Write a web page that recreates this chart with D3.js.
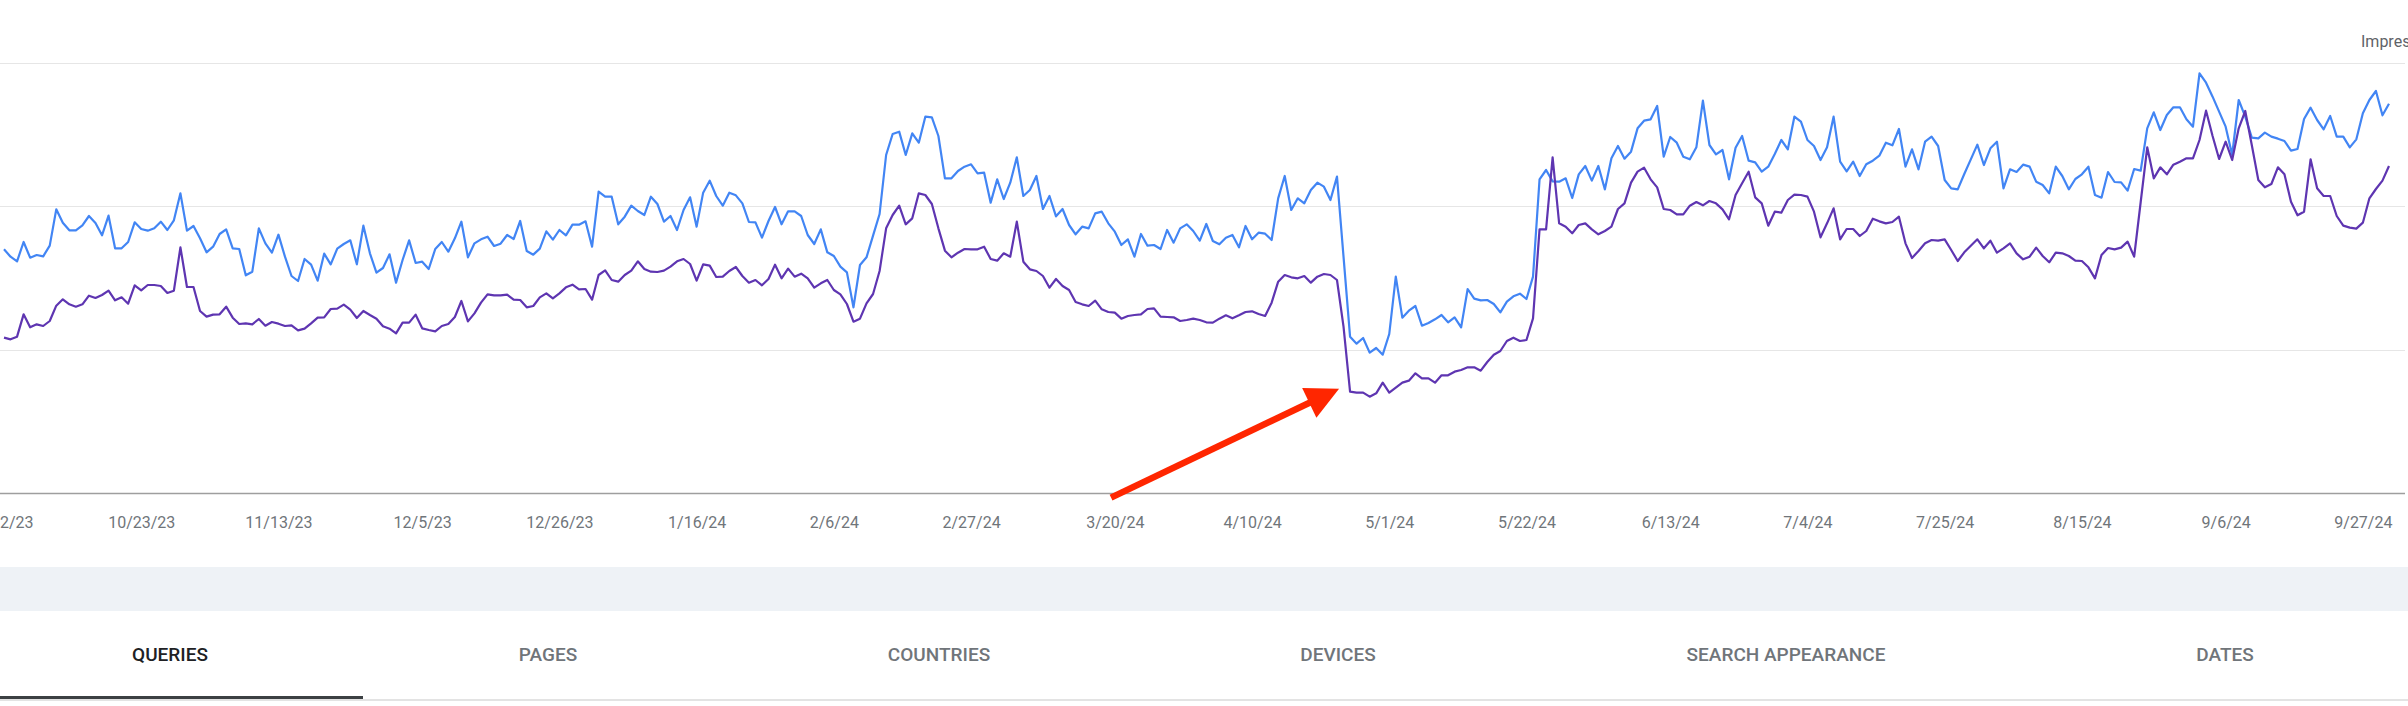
<!DOCTYPE html>
<html>
<head>
<meta charset="utf-8">
<script src="https://cdn.jsdelivr.net/npm/d3@7"></script>
<style>
  html, body { margin: 0; padding: 0; background: #ffffff; }
  svg { display: block; font-family: Roboto, "Noto Sans", Arial, sans-serif; }
</style>
</head>
<body>
<svg id="chart" width="2408" height="706"></svg>
<script>
// ---------------- DATA ----------------
// Daily series starting 10/2/23 (one value per day, 366 days)
const startDate = "2023-10-02";

// Clicks per day (blue line, left axis)
const clicks = [
  731, 709, 695, 753, 706, 714, 710, 742, 851, 811,
  788, 788, 803, 831, 810, 773, 832, 734, 734, 753,
  812, 792, 787, 794, 814, 789, 818, 899, 787, 801,
  764, 722, 739, 777, 791, 734, 732, 653, 664, 794,
  749, 721, 775, 709, 651, 636, 702, 685, 637, 718,
  686, 733, 747, 758, 686, 802, 719, 661, 675, 716,
  631, 699, 758, 690, 694, 672, 732, 753, 724, 764,
  814, 707, 749, 761, 769, 741, 748, 774, 762, 816,
  726, 715, 733, 785, 760, 789, 773, 805, 805, 815,
  739, 904, 889, 889, 806, 829, 862, 846, 834, 889,
  867, 814, 831, 789, 849, 887, 799, 901, 937, 891,
  862, 901, 893, 869, 813, 812, 766, 816, 858, 806,
  845, 845, 831, 774, 747, 791, 722, 711, 679, 662,
  557, 684, 707, 772, 837, 1014, 1077, 1084, 1014, 1079,
  1051, 1129, 1127, 1071, 944, 944, 966, 979, 986, 959,
  961, 871, 941, 882, 931, 1007, 891, 909, 951, 852,
  891, 830, 852, 804, 776, 799, 794, 839, 844, 809,
  784, 744, 761, 709, 777, 742, 744, 732, 789, 751,
  794, 806, 786, 757, 807, 756, 746, 766, 774, 737,
  801, 761, 781, 778, 759, 884, 951, 849, 884, 869,
  909, 931, 919, 879, 949, 709, 469, 448, 465, 421,
  435, 415, 477, 649, 526, 547, 561, 502, 510, 521,
  534, 512, 527, 497, 612, 583, 578, 579, 567, 542,
  574, 590, 598, 582, 649, 941, 969, 935, 934, 944,
  885, 956, 981, 937, 981, 911, 1004, 1041, 1003, 1024,
  1094, 1117, 1121, 1161, 1009, 1068, 1051, 1009, 1001, 1037,
  1177, 1044, 1016, 1029, 941, 1036, 1071, 997, 992, 964,
  979, 1017, 1059, 1031, 1129, 1114, 1059, 1041, 999, 1037,
  1129, 994, 965, 994, 951, 986, 997, 1012, 1051, 1043,
  1092, 979, 1031, 971, 1054, 1069, 1041, 939, 914, 911,
  957, 1001, 1045, 984, 1034, 1054, 914, 971, 963, 985,
  979, 934, 924, 899, 979, 951, 911, 942, 956, 979,
  894, 886, 963, 933, 932, 907, 972, 967, 1094, 1142,
  1089, 1134, 1157, 1157, 1121, 1099, 1259, 1231, 1189, 1144,
  1099, 1014, 1179, 1129, 1066, 1064, 1081, 1069, 1063, 1056,
  1027, 1032, 1122, 1156, 1119, 1091, 1131, 1069, 1069, 1037,
  1061, 1139, 1179, 1206, 1133, 1168
];

// Impressions per day, in thousands (purple line, right axis)
const impressionsK = [
  46.6, 46.1, 46.9, 53.6, 49.7, 50.6, 50.1, 51.6, 56.2, 58.1,
  56.6, 55.9, 56.6, 59.2, 58.5, 59.4, 60.7, 57.8, 58.7, 56.8,
  62.3, 60.8, 62.4, 62.4, 62.1, 60.0, 60.7, 73.7, 61.8, 61.8,
  54.6, 52.9, 53.5, 53.6, 55.9, 52.6, 50.7, 50.9, 50.6, 52.2,
  50.2, 51.3, 50.8, 50.1, 50.3, 48.8, 49.3, 50.9, 52.6, 52.7,
  55.2, 55.3, 56.5, 55.0, 52.5, 54.6, 53.4, 52.3, 50.0, 49.3,
  47.9, 51.1, 51.1, 53.5, 49.4, 48.9, 48.5, 50.1, 50.7, 52.8,
  57.6, 51.5, 53.9, 57.1, 59.6, 59.3, 59.3, 59.5, 58.0, 57.9,
  55.7, 56.1, 58.7, 59.9, 58.4, 59.9, 61.7, 62.5, 61.1, 61.2,
  58.0, 65.4, 66.8, 63.9, 63.4, 65.4, 66.7, 69.5, 67.2, 66.4,
  66.3, 66.7, 67.9, 69.5, 70.2, 68.7, 63.7, 68.6, 68.2, 64.8,
  64.9, 66.6, 67.8, 65.1, 63.1, 63.9, 62.3, 64.2, 68.5, 64.4,
  67.3, 64.9, 65.8, 64.4, 61.6, 62.9, 63.9, 60.9, 59.6, 56.7,
  51.4, 52.3, 56.9, 59.7, 66.6, 79.4, 83.4, 86.2, 80.6, 82.4,
  89.9, 89.4, 86.7, 79.4, 72.7, 70.7, 72.1, 73.2, 73.1, 73.1,
  73.9, 70.2, 69.7, 71.9, 70.9, 81.4, 69.4, 67.1, 66.6, 65.1,
  61.6, 64.2, 62.1, 60.9, 57.3, 56.6, 56.1, 57.7, 55.1, 54.3,
  54.1, 52.3, 53.1, 53.4, 53.6, 55.2, 55.4, 52.9, 52.8, 52.7,
  51.6, 51.9, 52.3, 51.9, 51.2, 51.1, 52.3, 53.3, 52.4, 53.3,
  54.3, 54.5, 53.7, 53.1, 57.1, 63.4, 65.4, 64.7, 64.4, 65.1,
  63.1, 64.9, 65.7, 65.4, 63.9, 49.9, 30.4, 30.1, 30.1, 28.9,
  29.9, 33.1, 30.1, 31.6, 33.1, 33.7, 35.9, 34.4, 34.4, 33.1,
  35.3, 35.3, 36.4, 36.9, 37.7, 37.7, 36.7, 39.3, 41.5, 42.6,
  45.6, 46.6, 45.6, 45.9, 52.4, 79.1, 79.1, 100.7, 80.9, 79.9,
  77.9, 80.4, 80.9, 79.1, 77.6, 78.6, 79.9, 85.2, 86.9, 93.1,
  96.4, 97.6, 94.1, 91.7, 85.2, 84.9, 83.6, 83.6, 86.2, 87.3,
  86.3, 87.6, 86.9, 85.1, 82.1, 89.4, 92.9, 96.4, 88.7, 86.9,
  80.2, 84.4, 84.1, 87.9, 89.5, 89.4, 88.9, 84.4, 76.7, 80.9,
  85.4, 76.1, 79.2, 79.2, 77.1, 78.6, 82.3, 81.5, 80.9, 81.3,
  82.9, 74.9, 70.5, 72.6, 74.9, 75.9, 75.7, 76.1, 72.9, 69.6,
  72.2, 74.2, 76.1, 73.4, 75.7, 72.1, 73.4, 74.9, 71.9, 70.1,
  70.9, 73.6, 71.1, 69.2, 72.1, 71.9, 71.1, 69.7, 69.6, 67.7,
  64.4, 71.4, 73.5, 73.1, 73.6, 75.4, 70.9, 87.3, 103.7, 94.4,
  97.7, 95.6, 98.5, 99.4, 100.4, 100.4, 105.9, 114.7, 107.1, 100.2,
  105.4, 99.9, 109.4, 114.6, 104.4, 93.9, 91.7, 92.7, 97.7, 95.6,
  87.4, 83.3, 84.4, 100.1, 91.4, 89.1, 89.1, 83.1, 80.2, 79.6,
  79.3, 81.1, 88.4, 91.2, 93.7, 98.1
];

// Axis tick labels (x) and hidden y gridline values
const xTickLabels = ["10/2/23", "10/23/23", "11/13/23", "12/5/23", "12/26/23", "1/16/24",
  "2/6/24", "2/27/24", "3/20/24", "4/10/24", "5/1/24", "5/22/24", "6/13/24", "7/4/24",
  "7/25/24", "8/15/24", "9/6/24", "9/27/24"];
const clickGridValues = [0, 430, 860, 1290];
const impressionsDomainMax = 129;

const rightAxisTitle = "Impressions";
const tabLabels = ["QUERIES", "PAGES", "COUNTRIES", "DEVICES", "SEARCH APPEARANCE", "DATES"];
const activeTab = "QUERIES";

// Annotation: the arrow points at the drop on this date
const arrowTargetDate = "4/25/24";

// ---------------- LAYOUT ----------------
const W = 2408, H = 706;
const plot = { left: 4, right: 2389, top: 63, bottom: 493, gridRight: 2405 };
const tabCenters = [170, 548, 939, 1338, 1786, 2225];

const svg = d3.select("#chart");
const parse = d3.utcParse("%-m/%-d/%y");
const start = d3.utcParse("%Y-%m-%d")(startDate);
const dates = clicks.map((_, i) => d3.utcDay.offset(start, i));

const x = d3.scaleUtc().domain([dates[0], dates[dates.length - 1]]).range([plot.left, plot.right]);
const yC = d3.scaleLinear().domain([0, 1290]).range([plot.bottom, plot.top]);
const yI = d3.scaleLinear().domain([0, impressionsDomainMax]).range([plot.bottom, plot.top]);

// Gridlines
svg.append("g").selectAll("line").data(clickGridValues).join("line")
  .attr("x1", 0).attr("x2", plot.gridRight)
  .attr("y1", d => Math.round(yC(d)) + 0.5).attr("y2", d => Math.round(yC(d)) + 0.5)
  .attr("stroke", d => d === 0 ? "#9e9e9e" : "#e6e6e6")
  .attr("stroke-width", d => d === 0 ? 1.5 : 1.2);

// Right axis title (clipped by the page edge)
svg.append("text").attr("x", 2361).attr("y", 47)
  .attr("font-size", 16).attr("fill", "#5f6368").text(rightAxisTitle);

// X axis labels
const xAxis = d3.axisBottom(x)
  .tickValues(xTickLabels.map(parse))
  .tickFormat(d3.utcFormat("%-m/%-d/%y"))
  .tickSize(0);
const gx = svg.append("g").attr("transform", `translate(0,${plot.bottom})`).call(xAxis);
gx.select(".domain").remove();
gx.selectAll("text")
  .attr("dy", null).attr("y", 35)
  .attr("font-family", "Roboto, sans-serif")
  .attr("font-size", 16).attr("fill", "#70757a");

// Lines
const lineC = d3.line().x((d, i) => x(dates[i])).y(d => yC(d));
const lineI = d3.line().x((d, i) => x(dates[i])).y(d => yI(d));
svg.append("path").datum(clicks).attr("d", lineC)
  .attr("fill", "none").attr("stroke", "#4285f4").attr("stroke-width", 2.2)
  .attr("stroke-linejoin", "round");
svg.append("path").datum(impressionsK).attr("d", lineI)
  .attr("fill", "none").attr("stroke", "#5e35b1").attr("stroke-width", 2.2)
  .attr("stroke-linejoin", "round");

// Arrow annotation, anchored to the impressions point on the target date
const tIdx = dates.findIndex(d => +d === +parse(arrowTargetDate));
const tip = [x(dates[tIdx]) - 11, yI(impressionsK[tIdx]) - 3];
const tail = [tip[0] - 228, tip[1] + 109];
const len = Math.hypot(tip[0] - tail[0], tip[1] - tail[1]);
const u = [(tip[0] - tail[0]) / len, (tip[1] - tail[1]) / len];
const n = [-u[1], u[0]];
const headLen = 33, headHalf = 16.5;
const base = [tip[0] - u[0] * headLen, tip[1] - u[1] * headLen];
svg.append("line")
  .attr("x1", tail[0]).attr("y1", tail[1])
  .attr("x2", base[0] + u[0] * 2).attr("y2", base[1] + u[1] * 2)
  .attr("stroke", "#ff2600").attr("stroke-width", 6.5);
svg.append("polygon")
  .attr("points", [tip,
    [base[0] + n[0] * headHalf, base[1] + n[1] * headHalf],
    [base[0] - n[0] * headHalf, base[1] - n[1] * headHalf]].map(p => p.join(",")).join(" "))
  .attr("fill", "#ff2600");

// Grey band under the chart
svg.append("rect").attr("x", 0).attr("y", 567).attr("width", W).attr("height", 44)
  .attr("fill", "#eef2f6");

// Tabs
svg.append("rect").attr("x", 0).attr("y", 699).attr("width", W).attr("height", 2)
  .attr("fill", "#e3e3e3");
svg.append("g").selectAll("text").data(tabLabels).join("text")
  .attr("x", (d, i) => tabCenters[i]).attr("y", 661)
  .attr("text-anchor", "middle")
  .attr("font-size", 19).attr("font-weight", 500)
  .attr("fill", d => d === activeTab ? "#202124" : "#70757a")
  .text(d => d);
svg.append("rect").attr("x", 0).attr("y", 696).attr("width", 363).attr("height", 3)
  .attr("fill", "#3c4043");
</script>
</body>
</html>
